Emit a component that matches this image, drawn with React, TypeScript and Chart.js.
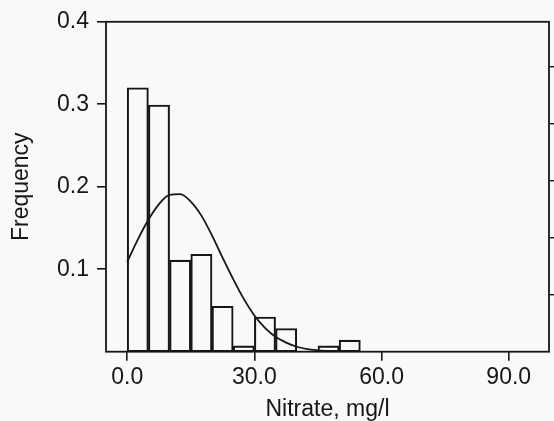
import React, { useEffect, useRef } from "react";
import { Chart, registerables } from "chart.js";

Chart.register(...registerables);

// Histogram bins (5 mg/l wide), centers and relative frequencies
const binCenters = [2.5, 7.5, 12.5, 17.5, 22.5, 27.5, 32.5, 37.5, 42.5, 47.5, 52.5];
const binFrequencies = [0.32, 0.299, 0.111, 0.118, 0.055, 0.007, 0.042, 0.028, 0, 0.007, 0.014];

// Fitted curve
const curveX = [0, 2.5, 5, 7.5, 10, 12.5, 15, 17.5, 20, 22.5, 25, 27.5, 30, 32.5, 35, 37.5, 40, 42.5, 45, 47.5];
const curveY = [0.109, 0.136, 0.16, 0.179, 0.19, 0.191, 0.182, 0.165, 0.141, 0.114, 0.088, 0.064, 0.044, 0.029, 0.018, 0.011, 0.006, 0.003, 0.0016, 0.0007];

const xTicks = [0, 30, 60, 90];
const yTicks = [0.1, 0.2, 0.3, 0.4];
const rightTicks = [1, 2, 3, 4, 5];

const xTitle = "Nitrate, mg/l";
const yTitle = "Frequency";

const INK = "#161616";
const BG = "#f9f9fc";
const FONT = "'Liberation Sans', Arial, sans-serif";

const framePlugin = {
  id: "frame",
  beforeDraw(chart: any) {
    const ctx = chart.ctx;
    ctx.save();
    ctx.fillStyle = BG;
    ctx.fillRect(0, 0, chart.width, chart.height);
    ctx.restore();
  },
  afterDraw(chart: any) {
    const { left, top, right, bottom } = chart.chartArea;
    const ctx = chart.ctx;
    ctx.save();
    ctx.strokeStyle = INK;
    ctx.lineWidth = 1.8;
    ctx.strokeRect(left, top, right - left, bottom - top);
    ctx.restore();
  },
};

export default function App() {
  const canvasRef = useRef<HTMLCanvasElement | null>(null);

  useEffect(() => {
    document.body.style.margin = "0";
    document.body.style.background = BG;
    const canvas = canvasRef.current;
    if (!canvas) return;

    const barData = binCenters.map((x, i) => ({ x, y: binFrequencies[i] }));
    const lineData = curveX.map((x, i) => ({ x, y: curveY[i] }));

    const chart = new Chart(canvas, {
      type: "bar",
      data: {
        datasets: [
          {
            type: "bar",
            data: barData as any,
            backgroundColor: "rgba(0,0,0,0)",
            borderColor: INK,
            borderWidth: 1.4,
            borderSkipped: false,
            barPercentage: 1,
            categoryPercentage: 1,
            yAxisID: "y",
            xAxisID: "x",
            order: 2,
          } as any,
          {
            type: "line",
            data: lineData as any,
            borderColor: INK,
            borderWidth: 1.8,
            pointRadius: 0,
            fill: false,
            cubicInterpolationMode: "monotone",
            yAxisID: "y",
            xAxisID: "x",
            order: 1,
          } as any,
        ],
      },
      options: {
        animation: false,
        responsive: true,
        maintainAspectRatio: false,
        layout: { padding: { top: 16.5, left: 0, right: 0, bottom: 0 } },
        plugins: {
          legend: { display: false },
          tooltip: { enabled: false },
        },
        scales: {
          x: {
            type: "linear",
            position: "bottom",
            min: -5,
            max: 99.5,
            offset: false,
            afterBuildTicks: (s: any) => {
              s.ticks = xTicks.map((v) => ({ value: v }));
            },
            afterFit: (s: any) => {
              s.height = 69.3;
            },
            grid: {
              offset: false,
              drawOnChartArea: false,
              drawTicks: true,
              tickLength: 9,
              color: INK,
              lineWidth: 1.6,
            },
            border: { display: false },
            ticks: {
              color: INK,
              padding: 3,
              maxRotation: 0,
              autoSkip: false,
              font: { family: FONT, size: 23 },
              callback: (v: any) => Number(v).toFixed(1),
            },
            title: {
              display: true,
              text: xTitle,
              color: INK,
              font: { family: FONT, size: 23, lineHeight: 1 },
              padding: { top: 0, bottom: 0 },
            },
          },
          y: {
            type: "linear",
            position: "left",
            min: 0,
            max: 0.4,
            afterBuildTicks: (s: any) => {
              s.ticks = yTicks.map((v) => ({ value: v }));
            },
            afterFit: (s: any) => {
              s.width = 106;
            },
            grid: {
              drawOnChartArea: false,
              drawTicks: true,
              tickLength: 9,
              color: INK,
              lineWidth: 1.6,
            },
            border: { display: false },
            ticks: {
              color: INK,
              padding: 8,
              autoSkip: false,
              font: { family: FONT, size: 23 },
              callback: (v: any) => Number(v).toFixed(1),
            },
            title: {
              display: true,
              text: yTitle,
              color: INK,
              font: { family: FONT, size: 23, lineHeight: 1 },
              padding: { top: 10, bottom: 0 },
            },
          },
          yRight: {
            type: "linear",
            position: "right",
            min: 0,
            max: 5.78,
            afterBuildTicks: (s: any) => {
              s.ticks = rightTicks.map((v) => ({ value: v }));
            },
            afterFit: (s: any) => {
              s.width = 5;
            },
            grid: {
              drawOnChartArea: false,
              drawTicks: true,
              tickLength: 5,
              color: INK,
              lineWidth: 1.4,
            },
            border: { display: false },
            ticks: { display: false },
          },
        },
      } as any,
      plugins: [framePlugin],
    });

    return () => chart.destroy();
  }, []);

  return (
    <div style={{ width: 554, height: 421, position: "relative" }}>
      <canvas ref={canvasRef} />
    </div>
  );
}
